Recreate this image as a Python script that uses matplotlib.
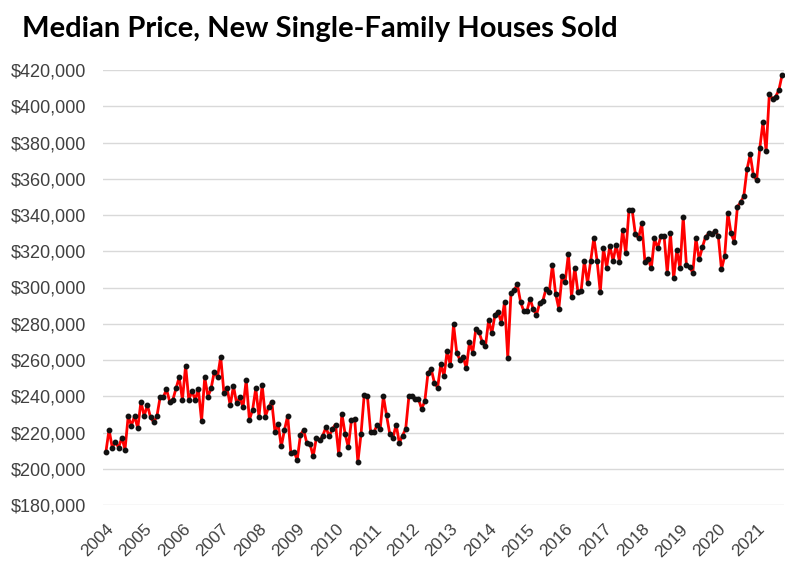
"""Median price of new single-family houses sold, monthly 2004-2021."""

import matplotlib
matplotlib.use("Agg")
import matplotlib.pyplot as plt
import numpy as np
from matplotlib.ticker import FuncFormatter

TITLE = "Median Price, New Single-Family Houses Sold"
START_YEAR = 2004
YEARS = list(range(2004, 2022))

# monthly median price, Jan 2004 onward
prices_2004_2006 = [
    209200, 221500, 211700, 214700, 211700, 217200, 210600, 229000, 223800, 229000,
    222400, 237100, 229000, 235200, 228300, 225700, 229000, 239400, 239400, 243900,
    237100, 238000, 244400, 250500, 238000, 256900, 238000, 242900, 238000, 243900,
    226400, 250500,
]
prices_2006_2009 = [
    239800, 244400, 253600, 250500, 261800, 242000, 244400, 234900, 245700, 236100,
    239400, 233900, 249000, 227000, 232500, 244400, 228800, 246200, 228800, 233900,
    237100, 220500, 224600, 212300, 221500, 229200, 208600, 209200, 205000, 218700,
    221500, 214100, 213800, 206800,
]
prices_2009_2012 = [
    217100, 215600, 218300, 222900, 217800, 222000, 224400, 207900, 230300, 219300,
    211900, 227000, 227500, 203700, 219300, 240900, 240000, 220200, 220200, 223900,
    222000, 240000, 229400, 219300, 217100, 224400, 214300, 218300, 222000, 240000,
    240400, 238500, 238500, 233000,
]
prices_2012_2015 = [
    237400, 253000, 254900, 247500, 244800, 257600, 251200, 265000, 257100, 279600,
    264000, 260000, 261800, 255400, 269900, 264000, 277200, 275400, 269900, 267700,
    282000, 274700, 285100, 286400, 280500, 292100, 261300, 296700, 298500, 301700,
    292100, 287000, 287000, 293800, 287900,
]
prices_2015_2018 = [
    284900, 291400, 292700, 299300, 297400, 312500, 296500, 288300, 306100, 303300,
    318300, 295000, 311000, 297400, 298200, 314700, 302400, 314700, 327500, 314700,
    297400, 321600, 311000, 323100, 314700, 323500, 314300, 331700, 318900, 342800,
    342800, 329400, 327200, 335400, 314300,
]
prices_2018_2021 = [
    316000, 310500, 327100, 321600, 328400, 328400, 308100, 329800, 305000, 320600,
    310500, 339000, 312400, 311400, 308100, 327100, 315500, 322100, 328000, 329800,
    329500, 331300, 328400, 310000, 317300, 341200, 329800, 325200, 344600, 347000,
    350500, 365200, 373400, 362000, 359300, 376800, 391100, 375300, 406800, 404000,
    405300, 409000, 417200,
]

prices = (prices_2004_2006 + prices_2006_2009 + prices_2009_2012
          + prices_2012_2015 + prices_2015_2018 + prices_2018_2021)
months = np.arange(len(prices))

fig = plt.figure(figsize=(8.09, 5.69), dpi=100)
ax = fig.add_axes([103 / 809, 1 - 505 / 569, 681 / 809, 435 / 569])

ax.plot(months, prices, color="#ff0000", lw=2.0, zorder=2)
ax.plot(months, prices, ls="none", marker="o", ms=3.2, color="#111111", zorder=3)

ax.set_ylim(180000, 420000)
ax.set_yticks(np.arange(180000, 420001, 20000))
ax.yaxis.set_major_formatter(FuncFormatter(lambda v, _: f"${v:,.0f}"))
ax.set_xlim(-0.9, len(prices) - 0.4)
ax.set_xticks([(y - START_YEAR) * 12 for y in YEARS])
ax.set_xticklabels([str(y) for y in YEARS], rotation=45, ha="right",
                   rotation_mode="anchor")

ax.grid(axis="y", color="#d9d9d9", lw=1)
ax.set_axisbelow(True)
for s in ax.spines.values():
    s.set_visible(False)
ax.tick_params(axis="both", length=0, labelcolor="#404040")
ax.tick_params(axis="y", pad=12, labelsize=13)
ax.tick_params(axis="x", pad=12, labelsize=12.5)
for lab in ax.get_xticklabels() + ax.get_yticklabels():
    lab.set_fontfamily("Liberation Sans")

fig.text(22 / 809, 1 - 37 / 569, TITLE, fontsize=21, fontweight="bold",
         family="Lato", va="baseline", ha="left")

fig.savefig("out.png", dpi=100)
